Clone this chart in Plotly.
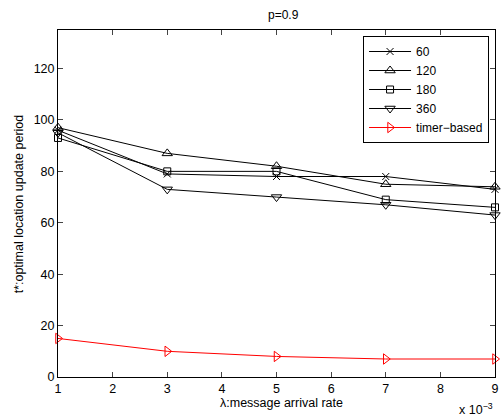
import plotly.graph_objects as go

lam = [1, 3, 5, 7, 9]
names = ["60", "120", "180", "360", "timer\u2212based"]
s60 = [96, 79, 78, 78, 73]
s120 = [97, 87, 82, 75, 74]
s180 = [93, 80, 80, 69, 66]
s360 = [95, 73, 70, 67, 63]
timer = [15, 10, 8, 7, 7]
x_ticks = [1, 2, 3, 4, 5, 6, 7, 8, 9]
y_ticks = [0, 20, 40, 60, 80, 100, 120]

series = [s60, s120, s180, s360, timer]
symbols = ["x-thin-open", "triangle-up-open", "square-open", "triangle-down-open", "triangle-right-open"]
colors = ["black", "black", "black", "black", "red"]
sizes = [7, 9, 7, 9, 9]

fig = go.Figure()
for nm, ys, sym, c, sz in zip(names, series, symbols, colors, sizes):
    fig.add_trace(go.Scatter(
        x=lam, y=ys, name=nm, mode="lines+markers",
        line=dict(color=c, width=1),
        marker=dict(symbol=sym, size=sz, color=c, line=dict(color=c, width=1)),
        cliponaxis=False,
    ))

FS = 12.5
font = dict(family="Liberation Sans, Arial, sans-serif", size=FS, color="black")
L, R, T, B = 58, 3, 30, 43
W, H = 502, 420
PW, PH = W - L - R, H - T - B


def px(xp):
    return (xp - L) / PW


def py(yp):
    return (H - B - yp) / PH


fig.update_layout(
    width=W, height=H,
    margin=dict(l=L, r=R, t=T, b=B),
    paper_bgcolor="white", plot_bgcolor="white",
    font=font,
    showlegend=True,
    legend=dict(x=px(493), xanchor="right", y=py(36), yanchor="top",
                bordercolor="black", borderwidth=1, bgcolor="white",
                font=dict(size=12), tracegroupgap=0, itemwidth=42),
    xaxis=dict(range=[1, 9], tickvals=x_ticks, ticks="inside", ticklen=5,
               showline=True, linecolor="black", linewidth=1, mirror="ticks",
               showgrid=False, zeroline=False, tickfont=dict(size=FS),
               ticklabeloverflow="allow"),
    yaxis=dict(range=[0, 135], tickvals=y_ticks, ticks="inside", ticklen=5,
               showline=True, linecolor="black", linewidth=1, mirror="ticks",
               showgrid=False, zeroline=False, tickfont=dict(size=FS),
               ticklabeloverflow="allow"),
)
fig.add_annotation(text="p=0.9", xref="paper", yref="paper", x=px(286), y=py(15),
                   xanchor="center", yanchor="middle", showarrow=False, font=dict(size=12))
fig.add_annotation(text="\u03bb:message arrival rate", xref="paper", yref="paper",
                   x=px(283.5), y=py(403), xanchor="center", yanchor="middle",
                   showarrow=False, font=dict(size=FS))
fig.add_annotation(text="t*:optimal location update period", xref="paper", yref="paper",
                   x=px(18.5), y=py(203.5), xanchor="center", yanchor="middle",
                   textangle=-90, showarrow=False, font=dict(size=FS))
fig.add_annotation(text="x 10<sup>\u22123</sup>", xref="paper", yref="paper",
                   x=px(499), y=py(409), xanchor="right", yanchor="middle", showarrow=False,
                   font=dict(size=FS))
fig.write_html("out.html", config={"displayModeBar": False},
               post_script="document.body.style.margin='0';")
